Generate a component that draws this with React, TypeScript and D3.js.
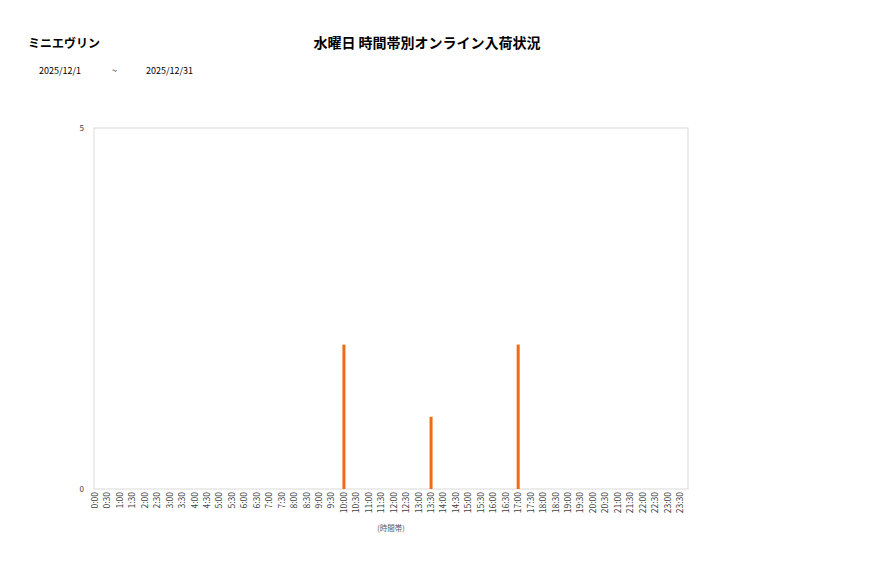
import React from "react";
import * as d3 from "d3";

const shopName = "ミニエヴリン";
const chartTitle = "水曜日 時間帯別オンライン入荷状況";
const dateFrom = "2025/12/1";
const dateTo = "2025/12/31";
const xAxisTitle = "(時間帯)";

// 0:00 .. 23:30 in 30 minute steps
const timeSlots = [
  "0:00", "0:30", "1:00", "1:30", "2:00", "2:30", "3:00", "3:30",
  "4:00", "4:30", "5:00", "5:30", "6:00", "6:30", "7:00", "7:30",
  "8:00", "8:30", "9:00", "9:30", "10:00", "10:30", "11:00", "11:30",
  "12:00", "12:30", "13:00", "13:30", "14:00", "14:30", "15:00", "15:30",
  "16:00", "16:30", "17:00", "17:30", "18:00", "18:30", "19:00", "19:30",
  "20:00", "20:30", "21:00", "21:30", "22:00", "22:30", "23:00", "23:30",
];
const arrivals = [
  0, 0, 0, 0, 0, 0, 0, 0,
  0, 0, 0, 0, 0, 0, 0, 0,
  0, 0, 0, 0, 2, 0, 0, 0,
  0, 0, 0, 1, 0, 0, 0, 0,
  0, 0, 2, 0, 0, 0, 0, 0,
  0, 0, 0, 0, 0, 0, 0, 0,
];
const yTicks = [0, 5];

const font = "'Noto Sans CJK JP', 'Noto Sans', sans-serif";

export default function App() {
  const width = 877;
  const height = 578;
  const plot = { left: 94, right: 688, top: 128, bottom: 489 };

  const x = d3.scalePoint<string>()
    .domain(timeSlots)
    .range([plot.left + 1, plot.right - 8]);
  const y = d3.scaleLinear()
    .domain([0, 5])
    .range([plot.bottom, plot.top]);

  const barWidth = 3;

  return (
    <svg
      width={width}
      height={height}
      style={{ position: "absolute", left: 0, top: 0, background: "#fff" }}
      fontFamily={font}
    >
      <text x={28} y={48} fontSize={12} fontWeight="bold" fill="#000">
        {shopName}
      </text>
      <text x={427} y={48} fontSize={14} fontWeight="bold" fill="#000" textAnchor="middle">
        {chartTitle}
      </text>
      <text x={39} y={74} fontSize={9} fill="#000">{dateFrom}</text>
      <text x={112} y={74} fontSize={9} fill="#000">~</text>
      <text x={146} y={74} fontSize={9} fill="#000">{dateTo}</text>

      {/* plot frame */}
      <rect
        x={plot.left}
        y={plot.top}
        width={plot.right - plot.left}
        height={plot.bottom - plot.top}
        fill="#fff"
        stroke="#d9d9d9"
        strokeWidth={1}
      />

      {/* y tick labels */}
      {yTicks.map((t) => (
        <text
          key={t}
          x={84}
          y={y(t)}
          dy="0.35em"
          fontSize={8}
          textAnchor="end"
          fill="#404040"
        >
          {t}
        </text>
      ))}

      {/* bars */}
      {timeSlots.map((slot, i) =>
        arrivals[i] > 0 ? (
          <rect
            key={slot}
            x={(x(slot) as number) - barWidth / 2}
            y={y(arrivals[i])}
            width={barWidth}
            height={y(0) - y(arrivals[i])}
            fill="#f26b10"
          />
        ) : null
      )}

      {/* x tick labels */}
      {timeSlots.map((slot) => (
        <text
          key={slot}
          transform={`translate(${x(slot)},${plot.bottom + 3}) rotate(-90)`}
          dy="0.35em"
          fontSize={8.5}
          textAnchor="end"
          fill="#404040"
        >
          {slot}
        </text>
      ))}

      <text x={391} y={531} fontSize={7.5} textAnchor="middle" fill="#595959">
        {xAxisTitle}
      </text>
    </svg>
  );
}
